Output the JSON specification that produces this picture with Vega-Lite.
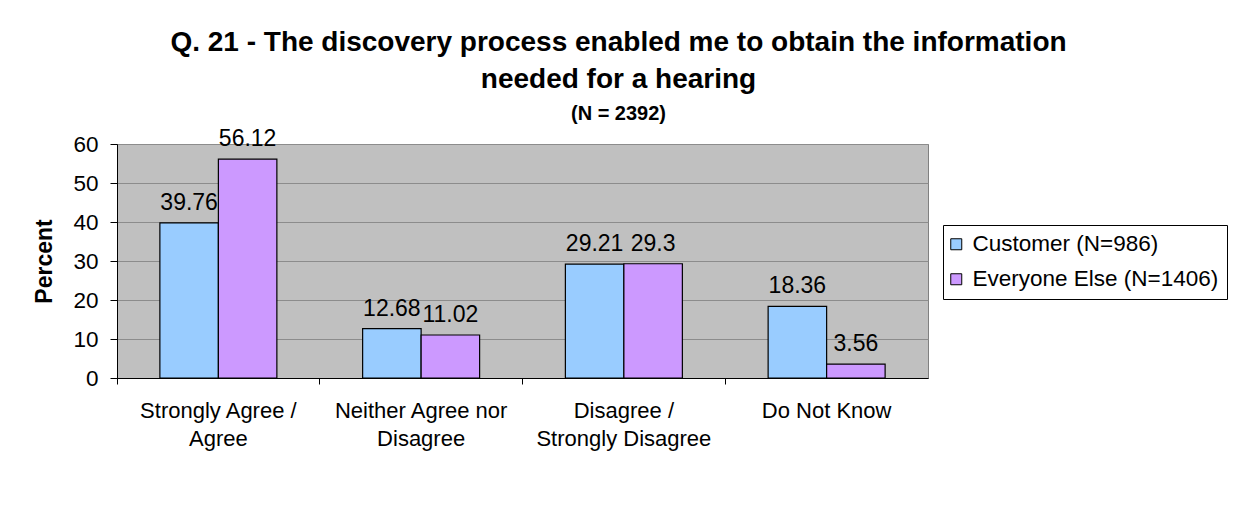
{
  "$schema": "https://vega.github.io/schema/vega-lite/v6.json",
  "width": 811,
  "height": 234,
  "autosize": {"type": "none"},
  "padding": {"left": 117, "top": 144, "right": 308, "bottom": 137},
  "background": "white",
  "title": {
    "text": ["Q. 21 - The discovery process enabled me to obtain the information", "needed for a hearing"],
    "subtitle": "(N = 2392)",
    "font": "Liberation Sans",
    "fontSize": 28,
    "fontWeight": "bold",
    "lineHeight": 37,
    "color": "black",
    "subtitleFont": "Liberation Sans",
    "subtitleFontSize": 20,
    "subtitleFontWeight": "bold",
    "subtitleColor": "black",
    "subtitlePadding": 10,
    "anchor": "middle",
    "dx": 96,
    "offset": 4
  },
  "data": {
    "values": [
      {"category": "Strongly Agree / Agree", "group": "Customer (N=986)", "percent": 39.76},
      {"category": "Strongly Agree / Agree", "group": "Everyone Else (N=1406)", "percent": 56.12},
      {"category": "Neither Agree nor Disagree", "group": "Customer (N=986)", "percent": 12.68},
      {"category": "Neither Agree nor Disagree", "group": "Everyone Else (N=1406)", "percent": 11.02},
      {"category": "Disagree / Strongly Disagree", "group": "Customer (N=986)", "percent": 29.21},
      {"category": "Disagree / Strongly Disagree", "group": "Everyone Else (N=1406)", "percent": 29.3},
      {"category": "Do Not Know", "group": "Customer (N=986)", "percent": 18.36},
      {"category": "Do Not Know", "group": "Everyone Else (N=1406)", "percent": 3.56}
    ]
  },
  "encoding": {
    "x": {
      "field": "category",
      "type": "nominal",
      "sort": null,
      "scale": {"paddingInner": 0, "paddingOuter": 0},
      "axis": {
        "title": null,
        "labelAngle": 0,
        "labelExpr": "datum.value == 'Strongly Agree / Agree' ? ['Strongly Agree /', 'Agree'] : datum.value == 'Neither Agree nor Disagree' ? ['Neither Agree nor', 'Disagree'] : datum.value == 'Disagree / Strongly Disagree' ? ['Disagree /', 'Strongly Disagree'] : datum.value",
        "labelFont": "Liberation Sans",
        "labelFontSize": 22,
        "labelColor": "black",
        "labelLineHeight": 28,
        "labelPadding": 16,
        "labelLimit": 0,
        "bandPosition": 0,
        "ticks": true,
        "tickColor": "black",
        "tickSize": 6,
        "domainColor": "black",
        "grid": false
      }
    },
    "xOffset": {
      "field": "group",
      "type": "nominal",
      "scale": {"paddingInner": 0, "paddingOuter": 0.733}
    },
    "y": {
      "field": "percent",
      "type": "quantitative",
      "scale": {"domain": [0, 60], "nice": false},
      "axis": {
        "title": "Percent",
        "titleFont": "Liberation Sans",
        "titleFontSize": 23,
        "titleFontWeight": "bold",
        "titleColor": "black",
        "titlePadding": 16,
        "values": [0, 10, 20, 30, 40, 50, 60],
        "labelFont": "Liberation Sans",
        "labelFontSize": 22.5,
        "labelColor": "black",
        "labelPadding": 12,
        "tickColor": "black",
        "tickSize": 7,
        "domainColor": "black",
        "grid": true,
        "gridColor": "#8C8C8C",
        "gridWidth": 1
      }
    }
  },
  "layer": [
    {
      "mark": {"type": "bar", "stroke": "black", "strokeWidth": 1.2},
      "encoding": {
        "color": {
          "field": "group",
          "type": "nominal",
          "scale": {"range": ["#99CCFF", "#CC99FF"]},
          "legend": {
            "title": null,
            "orient": "none",
            "legendX": 826,
            "legendY": 81,
            "symbolType": "square",
            "symbolSize": 121,
            "symbolOffset": -6,
            "symbolStrokeColor": "black",
            "symbolStrokeWidth": 1,
            "labelFont": "Liberation Sans",
            "labelFontSize": 22.5,
            "labelColor": "black",
            "labelLimit": 0,
            "rowPadding": 12,
            "padding": 8,
            "strokeColor": "black",
            "fillColor": "white",
            "labelOffset": 5
          }
        }
      }
    },
    {
      "mark": {"type": "text", "baseline": "alphabetic", "dy": -13, "font": "Liberation Sans", "fontSize": 23, "color": "black"},
      "encoding": {
        "text": {"field": "percent", "type": "quantitative"}
      }
    }
  ],
  "config": {
    "view": {"fill": "#C0C0C0", "stroke": "#808080", "strokeWidth": 1}
  }
}
